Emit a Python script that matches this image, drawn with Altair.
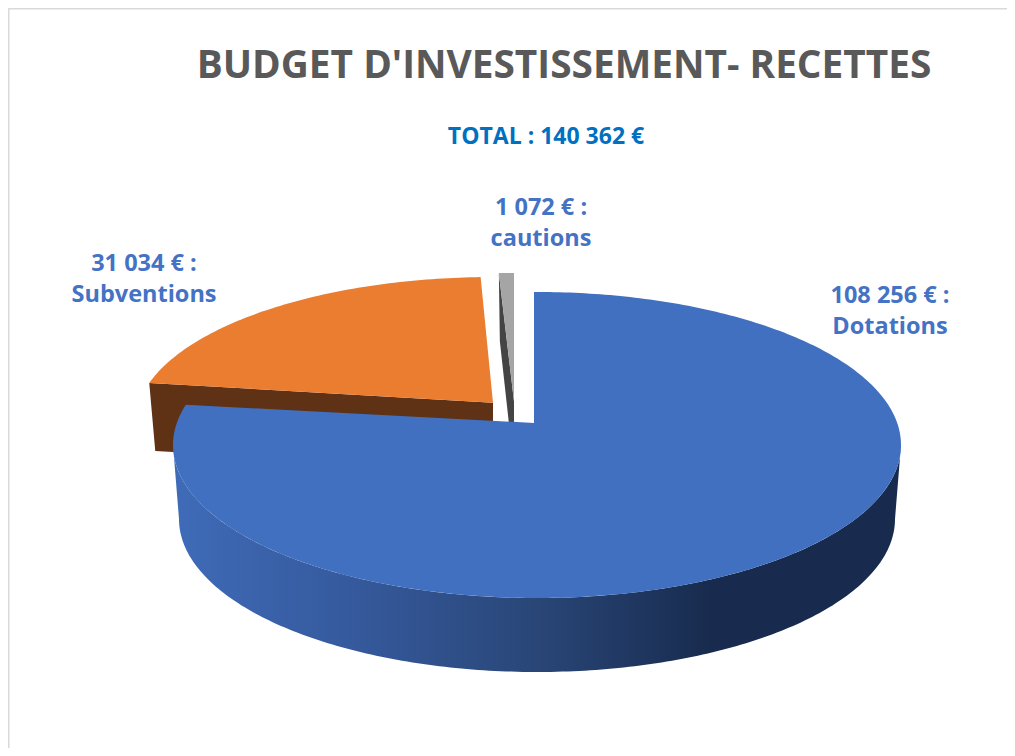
import numpy as np
import pandas as pd
import altair as alt

categories = ["Dotations", "Subventions", "cautions"]
amounts = [108256, 31034, 1072]
amount_labels = ["108 256 € :", "31 034 € :", "1 072 € :"]
total_label = "TOTAL : 140 362 €"
chart_title = "BUDGET D'INVESTISSEMENT- RECETTES"

FONT = "Open Sans"
W, H = 999, 740
PX = 8  # page margin, to convert picture pixels to chart pixels
E = 0.144  # perspective shift of the disc centre
DEPTH = 68

top_col = ["#4170C0", "#EB7D31", "#A5A5A5"]
wall_col = [None, "#5F3115", "#444444"]
# ellipse of each exploded slice: centre x, centre y, rx, ry, apex x offset, rotation
geom = [(537, 445, 364, 153, -3, -0.0095),
        (493, 424, 358, 147, 0, 0.008),
        (514, 423, 365, 150, 0, 0.0)]
label_pos = [(890, 303), (144, 271), (541, 215)]

fractions = np.array(amounts) / sum(amounts)
starts = np.concatenate([[0], np.cumsum(fractions)[:-1]]) * 2 * np.pi
ends = np.cumsum(fractions) * 2 * np.pi


def project(theta, g):
    cx, cy, rx, ry, _, rot = g
    X, Y = np.sin(theta + rot), np.cos(theta + rot)
    d = 1 + E * Y
    return cx + rx * X * np.sqrt(1 - E * E) / d, cy - ry * (Y + E) / d


def centre(g):
    return g[0] + g[4], g[1] - g[3] * E


xs_scale = alt.Scale(domain=[0, W], range=[0, W], nice=False, zero=False)
ys_scale = alt.Scale(domain=[0, H], range=[0, H], nice=False, zero=False)


def polygon_layer(xs, ys, fill):
    df = pd.DataFrame({"x": np.asarray(xs, float) - PX, "y": np.asarray(ys, float) - PX})
    df["i"] = range(len(df))
    return (
        alt.Chart(df)
        .mark_line(fill=fill, stroke=None, strokeWidth=0, interpolate="linear", clip=False)
        .encode(x=alt.X("x:Q", scale=xs_scale, axis=None),
                y=alt.Y("y:Q", scale=ys_scale, axis=None),
                order="i:Q")
    )


layers = []

# frame of the pasted picture
frame = pd.DataFrame({"x": [0.0, 0.0], "x2": [1.5, W], "y": [0.0, 0.0], "y2": [H, 1.5]})
layers.append(
    alt.Chart(frame).mark_rect(color="#D9D9D9").encode(
        x=alt.X("x:Q", scale=xs_scale, axis=None), x2="x2:Q",
        y=alt.Y("y:Q", scale=ys_scale, axis=None), y2="y2:Q")
)

# gray then orange slice (wall under top face)
for k, shift in [(2, 1), (1, 6)]:
    g = geom[k]
    apex = centre(g)
    lx, ly = project(starts[k], g)
    wx = [lx, lx + shift, apex[0], apex[0]]
    wy = [ly, ly + DEPTH, apex[1] + DEPTH, apex[1]]
    layers.append(polygon_layer(wx, wy, wall_col[k]))
    th = np.linspace(starts[k], ends[k], 80)
    ax, ay = project(th, g)
    layers.append(polygon_layer(np.r_[apex[0], ax, apex[0]], np.r_[apex[1], ay, apex[1]], top_col[k]))

# blue side wall
g = geom[0]
t = np.linspace(np.pi / 2, 3 * np.pi / 2, 200)
ux = g[0] + g[2] * np.sin(t)
uy = g[1] - g[3] * np.cos(t)
lxs = g[0] + 358 * np.sin(t)
lys = 519 - 153 * np.cos(t)
grad = alt.Gradient(
    gradient="linear", x1=0, x2=1, y1=0, y2=0,
    stops=[alt.GradientStop(color="#3F6BB8", offset=0),
           alt.GradientStop(color="#35599C", offset=0.25),
           alt.GradientStop(color="#294677", offset=0.5),
           alt.GradientStop(color="#182B4E", offset=0.74),
           alt.GradientStop(color="#182B4E", offset=1)],
)
layers.append(polygon_layer(np.r_[ux, lxs[::-1]], np.r_[uy, lys[::-1]], grad))

# blue top face
apex = centre(g)
th = np.linspace(starts[0], ends[0], 300)
ax, ay = project(th, g)
layers.append(polygon_layer(np.r_[apex[0], ax, apex[0]], np.r_[apex[1], ay, apex[1]], top_col[0]))


# text
def text_layer(txt, x, y, size, color):
    df = pd.DataFrame({"t": [txt], "x": [x - PX], "y": [y - PX]})
    return alt.Chart(df).mark_text(
        font=FONT, fontWeight="bold", fontSize=size, color=color,
        align="center", baseline="alphabetic"
    ).encode(x=alt.X("x:Q", scale=xs_scale, axis=None),
             y=alt.Y("y:Q", scale=ys_scale, axis=None), text="t:N")


layers.append(text_layer(chart_title, 564, 78, 38.8, "#595959"))
layers.append(text_layer(total_label, 546, 144, 23, "#0070C0"))
for lab, cat, (x, y) in zip(amount_labels, categories, label_pos):
    layers.append(text_layer(lab, x, y, 23.5, "#4472C4"))
    layers.append(text_layer(cat, x, y + 31, 23.5, "#4472C4"))

chart = alt.layer(*layers).properties(
    width=W, height=H, padding=0, autosize=alt.AutoSizeParams(type="none"),
    background="white"
).configure_view(stroke=None)

chart.save("out.html", embed_options={"renderer": "svg", "actions": False})
